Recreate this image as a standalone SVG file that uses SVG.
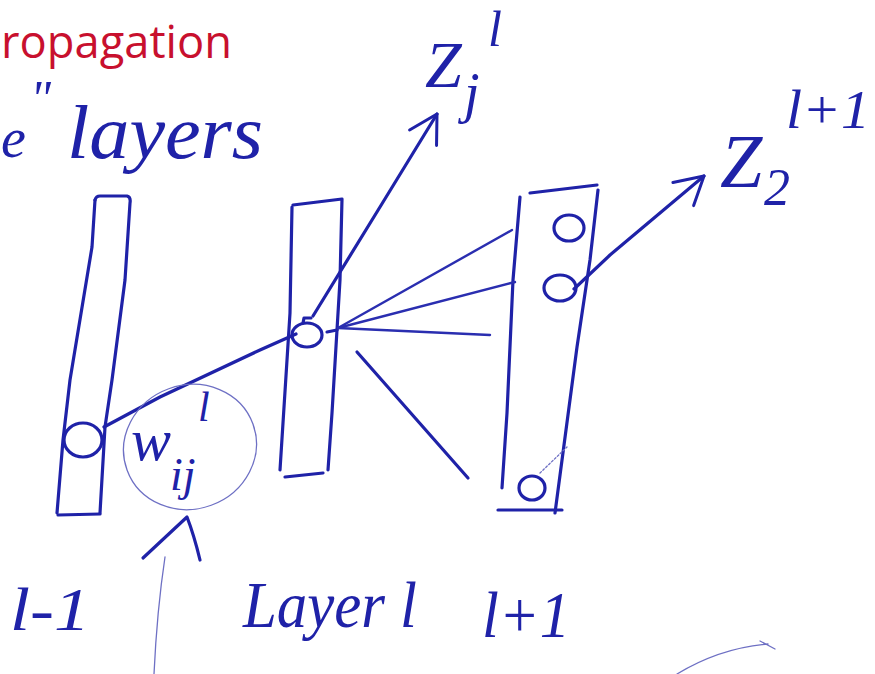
<svg xmlns="http://www.w3.org/2000/svg" width="875" height="674" viewBox="0 0 875 674">
<defs>
<style>
.ink{fill:none;stroke:#1f22a8;stroke-width:3.2;stroke-linecap:round;stroke-linejoin:round}
.fan{fill:none;stroke:#2a2eb0;stroke-width:2.4;stroke-linecap:round}
.faint{fill:none;stroke:#6e70c4;stroke-width:1.3;stroke-linecap:round}
.hw{font-family:"Liberation Serif",serif;font-style:italic;fill:#1f22a8}
.title{font-family:"Open Sans","Liberation Sans",sans-serif;fill:#c8102e}
</style>
<marker id="open" markerUnits="userSpaceOnUse" markerWidth="40" markerHeight="40" viewBox="-32 -20 36 40" refX="0" refY="0" orient="auto">
<path d="M-28,-15 L0,0 L-27,16" fill="none" stroke="#1f22a8" stroke-width="3" stroke-linecap="round" stroke-linejoin="round"/>
</marker>
</defs>
<rect width="875" height="674" fill="#ffffff"/>

<g id="title">
<text class="title" x="1" y="58" font-size="46" textLength="231" lengthAdjust="spacingAndGlyphs">ropagation</text>
</g>

<g id="heading">
<text class="hw" x="1" y="157" font-size="56">e</text>
<text class="hw" x="30" y="115" font-size="50">"</text>
<text class="hw" x="67" y="158" font-size="76" textLength="196" lengthAdjust="spacingAndGlyphs">layers</text>
</g>

<g id="layer-l-minus-1">
<path class="ink" d="M95,200 L92,247 L70,380 L63,440 L57,513"/>
<path class="ink" d="M95,200 Q96,196 100,196 L127,196 Q131,197 130,203 L125,280 L112,380 L105,427 L100,513"/>
<path class="ink" d="M58,515 L100,514"/>
<ellipse class="ink" cx="83" cy="440" rx="19" ry="17"/>
</g>

<g id="layer-l">
<path class="ink" d="M292,207 L290,313 L280,470"/>
<path class="ink" d="M293,205 L342,199 L340,280 L332,413 L328,470"/>
<path class="ink" d="M285,477 L323,473"/>
<ellipse class="ink" cx="307" cy="335" rx="15" ry="12"/>
<path class="ink" d="M303,323 L304,318 L311,318"/>
</g>

<g id="layer-l-plus-1">
<path class="ink" d="M530,193 L597,185"/>
<path class="ink" d="M520,197 L513,280 L507,413 L502,488"/>
<path class="ink" d="M598,190 L590,260 L577,347 L555,513"/>
<path class="ink" d="M498,510 L562,510"/>
<ellipse class="ink" cx="569" cy="228" rx="15" ry="13"/>
<ellipse class="ink" cx="560" cy="288" rx="16" ry="13"/>
<ellipse class="ink" cx="532" cy="488" rx="13" ry="12"/>
<path class="faint" d="M540,473 L567,447" stroke-dasharray="2 2"/>
</g>

<g id="connectors">
<path class="ink" d="M104,427 L160,397 L260,350 L296,334"/>
<path class="ink" d="M313,316 L380,207 L437,114" marker-end="url(#open)"/>
<path class="ink" d="M327,332 L337,330"/>
<path class="fan" d="M338,328 L512,230"/>
<path class="fan" d="M338,328 L515,282"/>
<path class="fan" d="M338,328 L490,335"/>
<path class="ink" d="M357,352 L468,478"/>
<path class="ink" d="M574,289 L610,255 L704,176" marker-end="url(#open)"/>
<path class="ink" d="M143,558 L187,517 Q194,535 200,560"/>
<path class="faint" d="M165,557 Q157,610 154,674"/>
<path class="faint" d="M677,674 Q720,648 768,644 M760,641 L775,649"/>
</g>

<g id="label-zj">
<text class="hw" x="425" y="87" font-size="66">Z</text>
<text class="hw" x="464" y="112" font-size="56">j</text>
<text class="hw" x="488" y="46" font-size="50">l</text>
</g>

<g id="label-z2">
<text class="hw" x="720" y="187" font-size="76">Z</text>
<text class="hw" x="764" y="205" font-size="52">2</text>
<text class="hw" x="786" y="128" font-size="54" textLength="84" lengthAdjust="spacingAndGlyphs">l+1</text>
</g>

<g id="label-wij">
<ellipse class="faint" cx="190" cy="447" rx="67" ry="62" transform="rotate(-20 190 447)"/>
<text class="hw" x="131" y="460" font-size="60">w</text>
<text class="hw" x="170" y="490" font-size="46">ij</text>
<text class="hw" x="198" y="421" font-size="42">l</text>
</g>

<g id="bottom-labels">
<text class="hw" x="10" y="630" font-size="62" textLength="80" lengthAdjust="spacingAndGlyphs">l-1</text>
<text class="hw" x="243" y="627" font-size="66" textLength="174" lengthAdjust="spacingAndGlyphs">Layer l</text>
<text class="hw" x="482" y="637" font-size="66" textLength="88" lengthAdjust="spacingAndGlyphs">l+1</text>
</g>
</svg>
